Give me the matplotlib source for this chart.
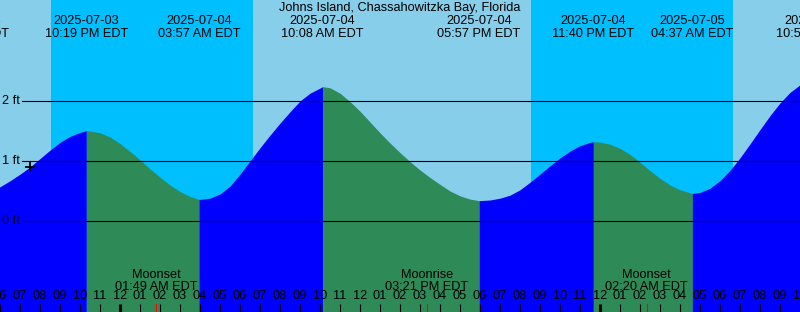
import pandas as pd
import matplotlib
matplotlib.use('Agg')
import matplotlib.pyplot as plt
import matplotlib.dates as mdates

plt.rcParams['font.family'] = ['Liberation Sans', 'DejaVu Sans']
plt.rcParams['font.size'] = 9.2

title = 'Johns Island, Chassahowitzka Bay, Florida'

# window shown
start = pd.Timestamp('2025-07-03 18:00')
end = pd.Timestamp('2025-07-05 10:00')

# tide height (ft) read every 30 min from 2025-07-03 18:00
heights = [0.57, 0.67, 0.78, 0.90, 1.04, 1.18, 1.31, 1.41, 1.475, 1.50,
           1.47, 1.40, 1.29, 1.16, 1.02, 0.87, 0.73, 0.60, 0.49, 0.41,
           0.36, 0.38, 0.45, 0.58, 0.78, 1.00, 1.22, 1.43, 1.63, 1.82,
           2.00, 2.13, 2.215, 2.22, 2.13, 1.99, 1.83, 1.65, 1.47, 1.30,
           1.14, 0.99, 0.85, 0.725, 0.61, 0.50, 0.42, 0.365, 0.34, 0.35,
           0.38, 0.43, 0.52, 0.645, 0.78, 0.92, 1.05, 1.165, 1.255, 1.31,
           1.315, 1.28, 1.21, 1.11, 0.98, 0.84, 0.71, 0.60, 0.52, 0.47,
           0.475, 0.546, 0.672, 0.844, 1.053, 1.284, 1.523, 1.756, 1.967, 2.143,
           2.27]

# high / low tides
tide_times = ['2025-07-03 04:24 PM', '2025-07-03 10:19 PM', '2025-07-04 03:57 AM',
              '2025-07-04 10:08 AM', '2025-07-04 05:57 PM', '2025-07-04 11:40 PM',
              '2025-07-05 04:37 AM', '2025-07-05 10:51 AM']
tide_heights = [0.40, 1.505, 0.36, 2.24, 0.34, 1.32, 0.46, 2.37]

moon_names = ['Moonset', 'Moonrise', 'Moonset']
moon_times = ['2025-07-04 01:49 AM', '2025-07-04 03:21 PM', '2025-07-05 02:20 AM']

sunsets = ['2025-07-03 08:33 PM', '2025-07-04 08:33 PM']
sunrises = ['2025-07-04 06:39 AM', '2025-07-05 06:39 AM']

now_time = '2025-07-03 07:30 PM'
now_height = 0.9

levels = [0, 1, 2]

fmt = '%Y-%m-%d %I:%M %p'
def parse(lst):
    return [pd.to_datetime(s, format=fmt).to_pydatetime() for s in lst]

tt = parse(tide_times)
mt = parse(moon_times)
ss = parse(sunsets)
sr = parse(sunrises)
series_t = pd.date_range(start, periods=len(heights), freq='30min').to_pydatetime()

fig = plt.figure(figsize=(8, 3.12), dpi=100)
ax = fig.add_axes([0, 0, 1, 1])
ax.set_facecolor('#87CEEB')
for a, b in zip(ss, sr):
    ax.axvspan(a, b, color='#00BFFF', lw=0, zorder=0)

bottom = -91 / 60
top = 221 / 60
for i in range(len(tt) - 1):
    ta, tb = tt[i], tt[i + 1]
    xs = [ta] + [t for t in series_t if ta < t < tb] + [tb]
    ys = [tide_heights[i]] + [h for t, h in zip(series_t, heights) if ta < t < tb] + [tide_heights[i + 1]]
    c = '#0000FF' if tide_heights[i + 1] > tide_heights[i] else '#2E8B57'
    ax.fill_between(xs, ys, bottom - 1, color=c, lw=0, zorder=1)

for v in levels:
    ax.axhline(v, xmin=22 / 800, xmax=1, color='black', lw=0.8, zorder=3)
    ax.text(0.003, v, '%d ft' % v, transform=ax.get_yaxis_transform(),
            ha='left', va='center', zorder=4)

xt = ax.get_xaxis_transform()
ax.text(0.5, 1 - 11.5 / 312, title, transform=ax.transAxes, ha='center', va='baseline')
for t in tt:
    ax.text(t, 1 - 24 / 312, t.strftime('%Y-%m-%d'), transform=xt, ha='center', va='baseline')
    ax.text(t, 1 - 36.7 / 312, t.strftime('%I:%M %p EDT'), transform=xt, ha='center', va='baseline')

for name, t in zip(moon_names, mt):
    ax.text(t, 1 - 278.3 / 312, name, transform=xt, ha='center', va='baseline', zorder=4)
    ax.text(t, 1 - 290 / 312, t.strftime('%I:%M %p EDT'), transform=xt, ha='center', va='baseline', zorder=4)
    ax.axvline(t, ymin=0, ymax=8 / 312, color='red', lw=0.8, zorder=4)

ax.plot(parse([now_time])[0], now_height, '+', color='black', ms=6.5, mew=1.3, zorder=5)

ax.set_xlim(start, end)
ax.set_ylim(bottom, top)
ax.xaxis.set_major_locator(mdates.HourLocator(byhour=[0]))
ax.xaxis.set_minor_locator(mdates.HourLocator())
ax.xaxis.set_major_formatter(mdates.DateFormatter('%I'))
ax.xaxis.set_minor_formatter(mdates.DateFormatter('%I'))
ax.tick_params(axis='x', which='both', direction='in', pad=-15.8, labelsize=9.2)
ax.tick_params(axis='x', which='minor', length=5.8, width=0.8)
ax.tick_params(axis='x', which='major', length=5.8, width=2.2)
ax.tick_params(axis='y', left=False, labelleft=False)
ax.set_axisbelow(False)
for s in ax.spines.values():
    s.set_visible(False)

fig.savefig('out.png', dpi=100)
